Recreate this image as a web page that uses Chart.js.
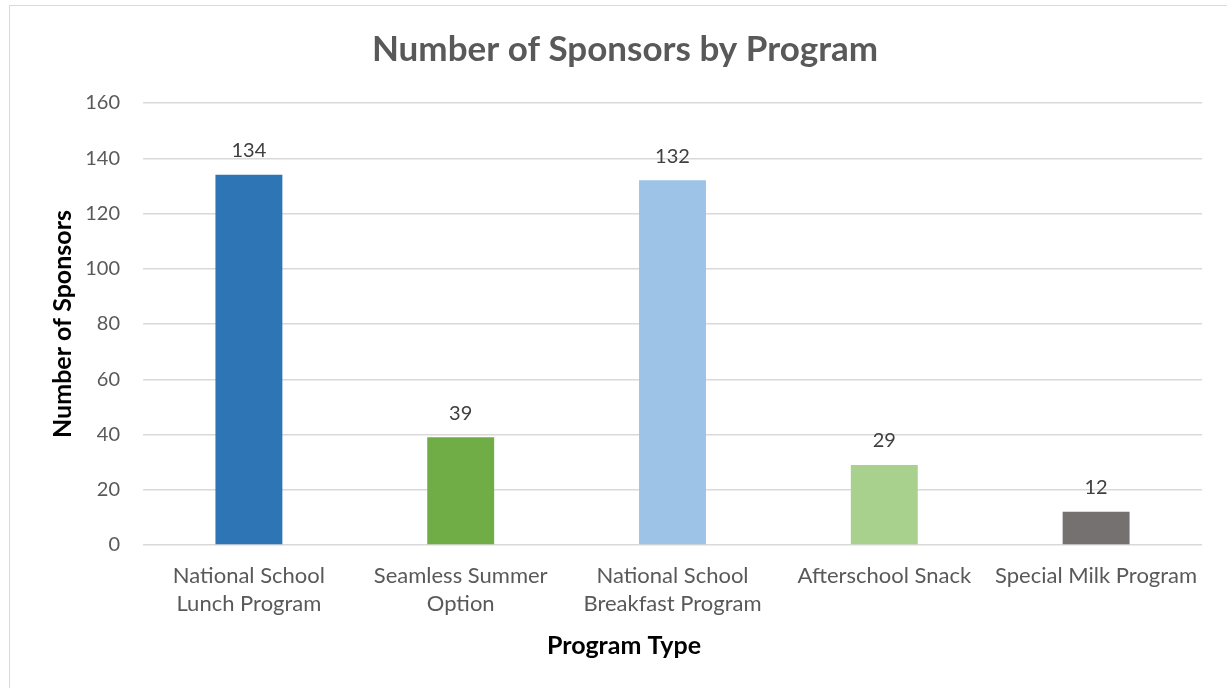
<!DOCTYPE html>
<html>
<head>
<meta charset="utf-8">
<script src="https://cdn.jsdelivr.net/npm/chart.js@4.4.1/dist/chart.umd.min.js"></script>
<style>
  html, body { margin: 0; padding: 0; background: #fff; }
  #wrap { position: relative; width: 1227px; height: 688px; overflow: hidden; }
  #frame { position: absolute; left: 9px; top: 5px; width: 1240px; height: 700px; border: 1px solid #d9d9d9; box-sizing: border-box; }
  canvas { position: absolute; left: 0; top: 0; }
</style>
</head>
<body>
<div id="wrap">
  <div id="frame"></div>
  <canvas id="chart" width="1227" height="688"></canvas>
</div>
<script>
// data
const programs = [
  ["National School", "Lunch Program"],
  ["Seamless Summer", "Option"],
  ["National School", "Breakfast Program"],
  "Afterschool Snack",
  "Special Milk Program"
];
const sponsors = [134, 39, 132, 29, 12];
const barColors = ["#2E75B6", "#70AD47", "#9DC3E6", "#A9D18E", "#767171"];
const xTitle = "Program Type";
const yTitle = "Number of Sponsors";

const FONT = "Lato, 'Open Sans', sans-serif";

// value labels above each bar, plus the x-axis title (Excel centres it on the whole chart, not the plot)
const valueLabels = {
  id: "valueLabels",
  afterDatasetsDraw(chart) {
    const c = chart.ctx;
    const meta = chart.getDatasetMeta(0);
    c.save();
    c.font = "20px " + FONT;
    c.fillStyle = "#404040";
    c.textAlign = "center";
    c.textBaseline = "bottom";
    meta.data.forEach((bar, i) => {
      c.fillText(String(chart.data.datasets[0].data[i]), bar.x, bar.y - 14);
    });
    c.font = "bold 25px " + FONT;
    c.fillStyle = "#000";
    c.textBaseline = "middle";
    c.fillText(xTitle, 624, chart.scales.x.bottom - 12);
    c.restore();
  }
};

const ctx = document.getElementById("chart").getContext("2d");
new Chart(ctx, {
  type: "bar",
  data: {
    labels: programs,
    datasets: [{
      data: sponsors,
      backgroundColor: barColors,
      borderWidth: 0,
      barPercentage: 1,
      categoryPercentage: 0.316
    }]
  },
  options: {
    responsive: false,
    animation: false,
    layout: { padding: { left: 48, right: 25, top: 29, bottom: 30 } },
    plugins: {
      legend: { display: false },
      tooltip: { enabled: false },
      title: {
        display: true,
        text: "Number of Sponsors by Program",
        color: "#595959",
        font: { family: FONT, size: 35, weight: "bold" },
        padding: { top: 0, bottom: 32 }
      }
    },
    scales: {
      x: {
        grid: { display: false },
        border: { display: false },
        ticks: {
          color: "#595959",
          font: { family: FONT, size: 22, lineHeight: 1.27 },
          maxRotation: 0,
          autoSkip: false,
          padding: 9
        },
        afterFit(scale) { scale.height = 113; }
      },
      y: {
        min: 0,
        max: 160,
        ticks: {
          stepSize: 20,
          color: "#595959",
          font: { family: FONT, size: 20 },
          padding: 23
        },
        grid: { color: "#d9d9d9", lineWidth: 1.5, drawTicks: false },
        border: { display: false },
        title: {
          display: true,
          text: yTitle,
          color: "#000",
          font: { family: FONT, size: 25, weight: "bold" },
          padding: { top: 0, bottom: 0 }
        },
        afterFit(scale) { scale.width = 95; }
      }
    }
  },
  plugins: [valueLabels]
});
</script>
</body>
</html>
